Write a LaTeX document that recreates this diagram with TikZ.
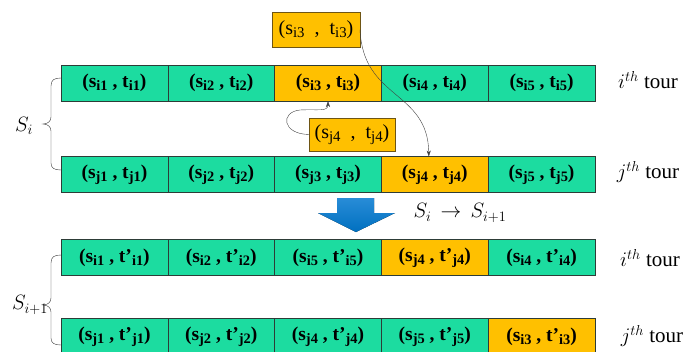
\documentclass[tikz,border=0pt]{standalone}
\usepackage{fontspec}
\setmainfont{Liberation Serif}
\usetikzlibrary{arrows.meta, positioning}

\definecolor{tealcell}{RGB}{28,220,160}
\definecolor{goldcell}{RGB}{255,192,0}
\definecolor{cellline}{RGB}{45,60,55}
\definecolor{goldline}{RGB}{110,85,20}
\definecolor{shiftblue}{RGB}{0,112,192}
\definecolor{shiftlight}{RGB}{40,140,215}

\newcommand{\sub}[1]{\raisebox{-0.35ex}{\scalebox{0.74}{#1}}}
\newcommand{\pr}[3]{(s\sub{#1} , #2\sub{#3})}

\begin{document}
\begin{tikzpicture}[
    x=1pt, y=-1pt,
    cell/.style={rectangle, minimum width=106.8pt, minimum height=36pt, inner sep=0pt, outer sep=0pt, text centered, draw=cellline, fill=tealcell, font=\bfseries\fontsize{19.5}{21}\selectfont},
    swap/.style={cell, fill=goldcell},
    moved/.style={rectangle, inner sep=0pt, outer sep=0pt, text centered, draw=goldline, fill=goldcell, font=\fontsize{20}{22}\selectfont},
    tour/.style={font=\fontsize{21}{23}\selectfont},
    setlabel/.style={font=\fontsize{22}{24}\selectfont},
    arrow/.style={-{Stealth[length=6pt, width=4pt]}, draw=black!75, thin},
    brace/.style={draw=black!80, thin}
]
    \useasboundingbox (0,0) rectangle (685,351);

    % Current tours
    \node[cell] (i1) at (114.4, 83) {\pr{i1}{t}{i1}};
    \node[cell, right=0pt of i1] (i2) {\pr{i2}{t}{i2}};
    \node[swap, right=0pt of i2] (i3) {\pr{i3}{t}{i3}};
    \node[cell, right=0pt of i3] (i4) {\pr{i4}{t}{i4}};
    \node[cell, right=0pt of i4] (i5) {\pr{i5}{t}{i5}};

    \node[cell] (j1) at (114.4, 174.5) {\pr{j1}{t}{j1}};
    \node[cell, right=0pt of j1] (j2) {\pr{j2}{t}{j2}};
    \node[cell, right=0pt of j2] (j3) {\pr{j3}{t}{j3}};
    \node[swap, right=0pt of j3] (j4) {\pr{j4}{t}{j4}};
    \node[cell, right=0pt of j4] (j5) {\pr{j5}{t}{j5}};

    % Moved pairs
    \node[moved, minimum width=88pt, minimum height=35pt] (mi3) at (316, 29.5) {(s\sub{i3}\enspace,\enspace t\sub{i3})};
    \node[moved, minimum width=86pt, minimum height=33pt] (mj4) at (352, 134.5) {(s\sub{j4}\enspace,\enspace t\sub{j4})};

    \draw[arrow] (mi3.east) .. controls (363, 100) and (428, 90) .. ([xshift=-6pt]j4.north);
    \draw[arrow] (mj4.west) .. controls (282, 134) and (280, 112) .. (300, 110) .. controls (318, 109) and (328, 112) .. (i3.south);

    % Tour labels
    \node[tour] (ti) at (648, 80) {$i^{th}$ tour};
    \node[tour] (tj) at (648, 172) {$j^{th}$ tour};

    % Set S_i
    \draw[brace] (i1.west |- 0,78) .. controls (54, 78) and (51, 80) .. (51, 86) -- (51, 117)
        .. controls (51, 121) and (48, 124) .. (43, 124) .. controls (48, 124) and (51, 127) .. (51, 131)
        -- (51, 163) .. controls (51, 168) and (54, 170) .. (j1.west |- 0,170);
    \node[setlabel] (si) at (24, 126) {$S_i$};

    % Transition
    \fill[top color=shiftlight, bottom color=shiftblue] (337, 198) -- (374, 198) -- (374, 213) -- (395, 213) -- (356, 232) -- (318, 213) -- (337, 213) -- cycle;
    \node[font=\fontsize{20}{22}\selectfont] (step_label) at (460, 213) {$S_i \,\rightarrow\, S_{i+1}$};

    % New tours
    \node[cell] (ni1) at (114.4, 257.5) {\pr{i1}{t’}{i1}};
    \node[cell, right=0pt of ni1] (ni2) {\pr{i2}{t’}{i2}};
    \node[cell, right=0pt of ni2] (ni3) {\pr{i5}{t’}{i5}};
    \node[swap, right=0pt of ni3] (ni4) {\pr{j4}{t’}{j4}};
    \node[cell, right=0pt of ni4] (ni5) {\pr{i4}{t’}{i4}};

    \node[cell] (nj1) at (114.4, 336.5) {\pr{j1}{t’}{j1}};
    \node[cell, right=0pt of nj1] (nj2) {\pr{j2}{t’}{j2}};
    \node[cell, right=0pt of nj2] (nj3) {\pr{j4}{t’}{j4}};
    \node[cell, right=0pt of nj3] (nj4) {\pr{j5}{t’}{j5}};
    \node[swap, right=0pt of nj4] (nj5) {\pr{i3}{t’}{i3}};

    \node[tour] (nti) at (650, 258) {$i^{th}$ tour};
    \node[tour] (ntj) at (652, 336) {$j^{th}$ tour};

    % Set S_{i+1}
    \draw[brace] (ni1.west |- 0,255) .. controls (54, 255) and (51, 257) .. (51, 263) -- (51, 298)
        .. controls (51, 302) and (48, 305) .. (43, 305) .. controls (48, 305) and (51, 308) .. (51, 312)
        -- (51, 338) .. controls (51, 343) and (54, 345) .. (nj1.west |- 0,345);
    \node[setlabel] (sn) at (30, 305) {$S_{i+1}$};
\end{tikzpicture}
\end{document}
